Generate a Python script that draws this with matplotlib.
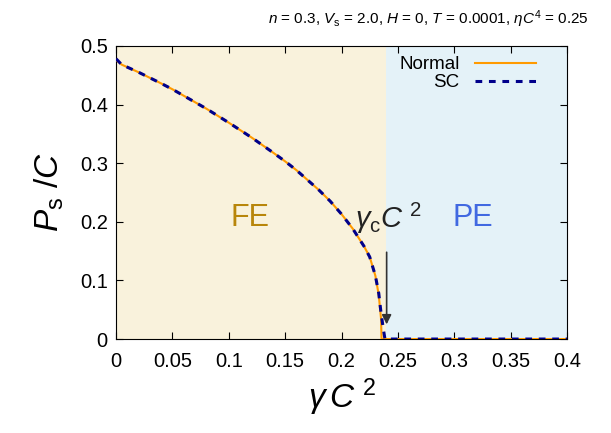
import numpy as np
import matplotlib
matplotlib.use("Agg")
import matplotlib.pyplot as plt

# values
gamma_normal = [0.0, 0.005, 0.02, 0.04, 0.05, 0.06, 0.08, 0.10, 0.12, 0.14, 0.15,
                0.16, 0.18, 0.19, 0.20, 0.21, 0.22, 0.225, 0.23, 0.233, 0.235, 0.2355, 0.4]
p_normal = [0.476, 0.468, 0.455, 0.436, 0.426, 0.415, 0.393, 0.369, 0.344, 0.317, 0.303,
            0.288, 0.254, 0.235, 0.213, 0.188, 0.158, 0.140, 0.108, 0.075, 0.035, 0.0, 0.0]

gamma_sc = [0.0, 0.005, 0.02, 0.04, 0.05, 0.06, 0.08, 0.10, 0.12, 0.14, 0.15,
            0.16, 0.18, 0.19, 0.20, 0.21, 0.22, 0.225, 0.23, 0.233, 0.235, 0.237, 0.2385, 0.4]
p_sc = [0.478, 0.468, 0.455, 0.436, 0.426, 0.415, 0.393, 0.369, 0.344, 0.317, 0.303,
        0.288, 0.254, 0.235, 0.213, 0.188, 0.158, 0.140, 0.108, 0.078, 0.045, 0.018, 0.0, 0.0]

gamma_c = 0.2395
x_ticks = [0, 0.05, 0.1, 0.15, 0.2, 0.25, 0.3, 0.35, 0.4]
x_ticklabels = ["0", "0.05", "0.1", "0.15", "0.2", "0.25", "0.3", "0.35", "0.4"]
y_ticks = [0, 0.1, 0.2, 0.3, 0.4, 0.5]
y_ticklabels = ["0", "0.1", "0.2", "0.3", "0.4", "0.5"]

plt.rcParams["font.family"] = ["Liberation Sans", "DejaVu Sans"]
plt.rcParams["mathtext.fontset"] = "custom"
plt.rcParams["mathtext.rm"] = "Liberation Sans"
plt.rcParams["mathtext.it"] = "Liberation Sans:italic"

fig = plt.figure(figsize=(6.11, 4.33), dpi=100)
ax = fig.add_axes([0.190, 0.217, 0.738, 0.677])

ax.axvspan(0, gamma_c, color="#f9f2dc", lw=0, zorder=0)
ax.axvspan(gamma_c, 0.4, color="#e4f2f8", lw=0, zorder=0)

ax.plot(gamma_normal, p_normal, color="#ff9a00", lw=1.5, label="Normal", zorder=3)
ax.plot(gamma_sc, p_sc, color="#00008b", lw=2.2, ls=(0, (2.2, 2.2)), label="SC", zorder=4)

ax.annotate("", xy=(gamma_c + 0.0005, 0.025), xytext=(gamma_c + 0.0005, 0.148),
            arrowprops=dict(arrowstyle="-|>", color="#333333", lw=1.2,
                            mutation_scale=14, shrinkA=0, shrinkB=0))
ax.text(gamma_c + 0.002, 0.205, r"$\gamma_{\rm c}C^{\ 2}$", fontsize=21,
        ha="center", va="center", color="#222222")

ax.text(0.119, 0.206, "FE", fontsize=22, color="#b8860b", ha="center", va="center")
ax.text(0.316, 0.206, "PE", fontsize=22, color="#4169e1", ha="center", va="center")

ax.set_xlim(0, 0.4)
ax.set_ylim(0, 0.5)
ax.set_xticks(x_ticks)
ax.set_xticklabels(x_ticklabels)
ax.set_yticks(y_ticks)
ax.set_yticklabels(y_ticklabels)
ax.tick_params(direction="in", top=True, right=True, labelsize=14.5, length=5)
ax.tick_params(axis="x", pad=9)
ax.tick_params(axis="y", pad=6)

ax.set_xlabel(r"$\gamma\,C^{\ 2}$", fontsize=24, labelpad=4)
ax.set_ylabel(r"$P_{\rm s}\ /C$", fontsize=24, labelpad=10)

ax.legend(loc="upper right", frameon=False, markerfirst=False, fontsize=13.5,
          handlelength=3.3, borderaxespad=0.2, borderpad=0.35, labelspacing=0.05,
          handletextpad=0.8, bbox_to_anchor=(0.955, 1.0))

fig.text(0.964, 0.955,
         r"$n$ = 0.3, $V_{\rm s}$ = 2.0, $H$ = 0, $T$ = 0.0001, $\eta C^4$ = 0.25",
         fontsize=11, ha="right", va="center")

fig.savefig("out.png", dpi=100)
